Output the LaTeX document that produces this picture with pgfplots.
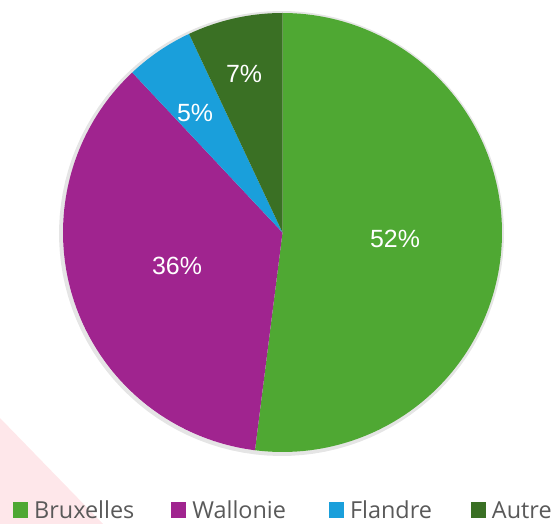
\documentclass[border=0pt]{standalone}
\usepackage{pgfplots}
\pgfplotsset{compat=1.18}
\usepackage{pgfplotstable}
\usepackage{fontspec}
\setmainfont{Liberation Sans}
\newfontfamily\legfont{Open Sans}
\definecolor{cBrux}{HTML}{4FA833}
\definecolor{cWal}{HTML}{A0248F}
\definecolor{cFla}{HTML}{1A9FDB}
\definecolor{cAut}{HTML}{3A7024}
\definecolor{cLeg}{HTML}{595959}
\definecolor{cPink}{HTML}{FA3C50}

% shares (%)
\def\vBrux{52}
\def\vWal{36}
\def\vFla{5}
\def\vAut{7}
\pgfmathsetmacro\aA{90}
\pgfmathsetmacro\aB{\aA-\vBrux*3.6}
\pgfmathsetmacro\aC{\aB-\vWal*3.6}
\pgfmathsetmacro\aD{\aC-\vFla*3.6}
\pgfmathsetmacro\aE{\aD-\vAut*3.6}
\def\cx{282.5}
\def\cy{291.5}
\def\R{219.5}

\pgfplotstableread{
x y v
395 285 52
177 258 36
195 411 5
244 450 7
}\labels

\begin{document}
\begin{tikzpicture}
\begin{axis}[
  name=pie,
  scale only axis, width=559bp, height=524bp,
  xmin=0, xmax=559, ymin=0, ymax=524,
  hide axis, clip=false,
  legend columns=4,
  legend style={at={(axis cs:13,13.5)}, anchor=west, draw=none, fill=none,
    font=\legfont\fontsize{23.5}{25}\selectfont, text=cLeg,
    /tikz/every odd column/.append style={column sep=4bp},
    /tikz/column 2/.style={column sep=35bp},
    /tikz/column 4/.style={column sep=41bp},
    /tikz/column 6/.style={column sep=37bp},
    inner sep=0pt, nodes={inner xsep=2bp, inner ysep=0bp}},
  legend cell align=left,
  legend image code/.code={\fill[#1] (0bp,-7bp) rectangle (15bp,8bp);},
]
\addplot[forget plot, draw=black, draw opacity=0.10, line width=4bp, domain=0:360, samples=120, variable=\t]
  ({\cx-1+(\R+1)*cos(\t)},{\cy-1+(\R+1)*sin(\t)});
\addplot[fill=cBrux, draw=none, domain=\aB:\aA, samples=120, variable=\t]
  ({\cx+\R*cos(\t)},{\cy+\R*sin(\t)}) -- (axis cs:\cx,\cy) -- cycle;
\addlegendentry{Bruxelles}
\addplot[fill=cWal, draw=none, domain=\aC:\aB, samples=90, variable=\t]
  ({\cx+\R*cos(\t)},{\cy+\R*sin(\t)}) -- (axis cs:\cx,\cy) -- cycle;
\addlegendentry{Wallonie}
\addplot[fill=cFla, draw=none, domain=\aD:\aC, samples=20, variable=\t]
  ({\cx+\R*cos(\t)},{\cy+\R*sin(\t)}) -- (axis cs:\cx,\cy) -- cycle;
\addlegendentry{Flandre}
\addplot[fill=cAut, draw=none, domain=\aE:\aD, samples=20, variable=\t]
  ({\cx+\R*cos(\t)},{\cy+\R*sin(\t)}) -- (axis cs:\cx,\cy) -- cycle;
\addlegendentry{Autre}
\addplot[forget plot, only marks, mark=none, point meta=explicit symbolic,
  nodes near coords={\pgfplotspointmeta\%},
  every node near coord/.append style={anchor=center, text=white,
    font=\fontsize{25}{28}\selectfont}]
  table[x=x, y=y, meta=v] {\labels};
\addplot[forget plot, fill=cPink, fill opacity=0.12, draw=none]
  coordinates {(0,106) (0,0) (103,0)} -- cycle;
\end{axis}
\pgfresetboundingbox
\path (pie.south west) rectangle (pie.north east);
\end{tikzpicture}
\end{document}
